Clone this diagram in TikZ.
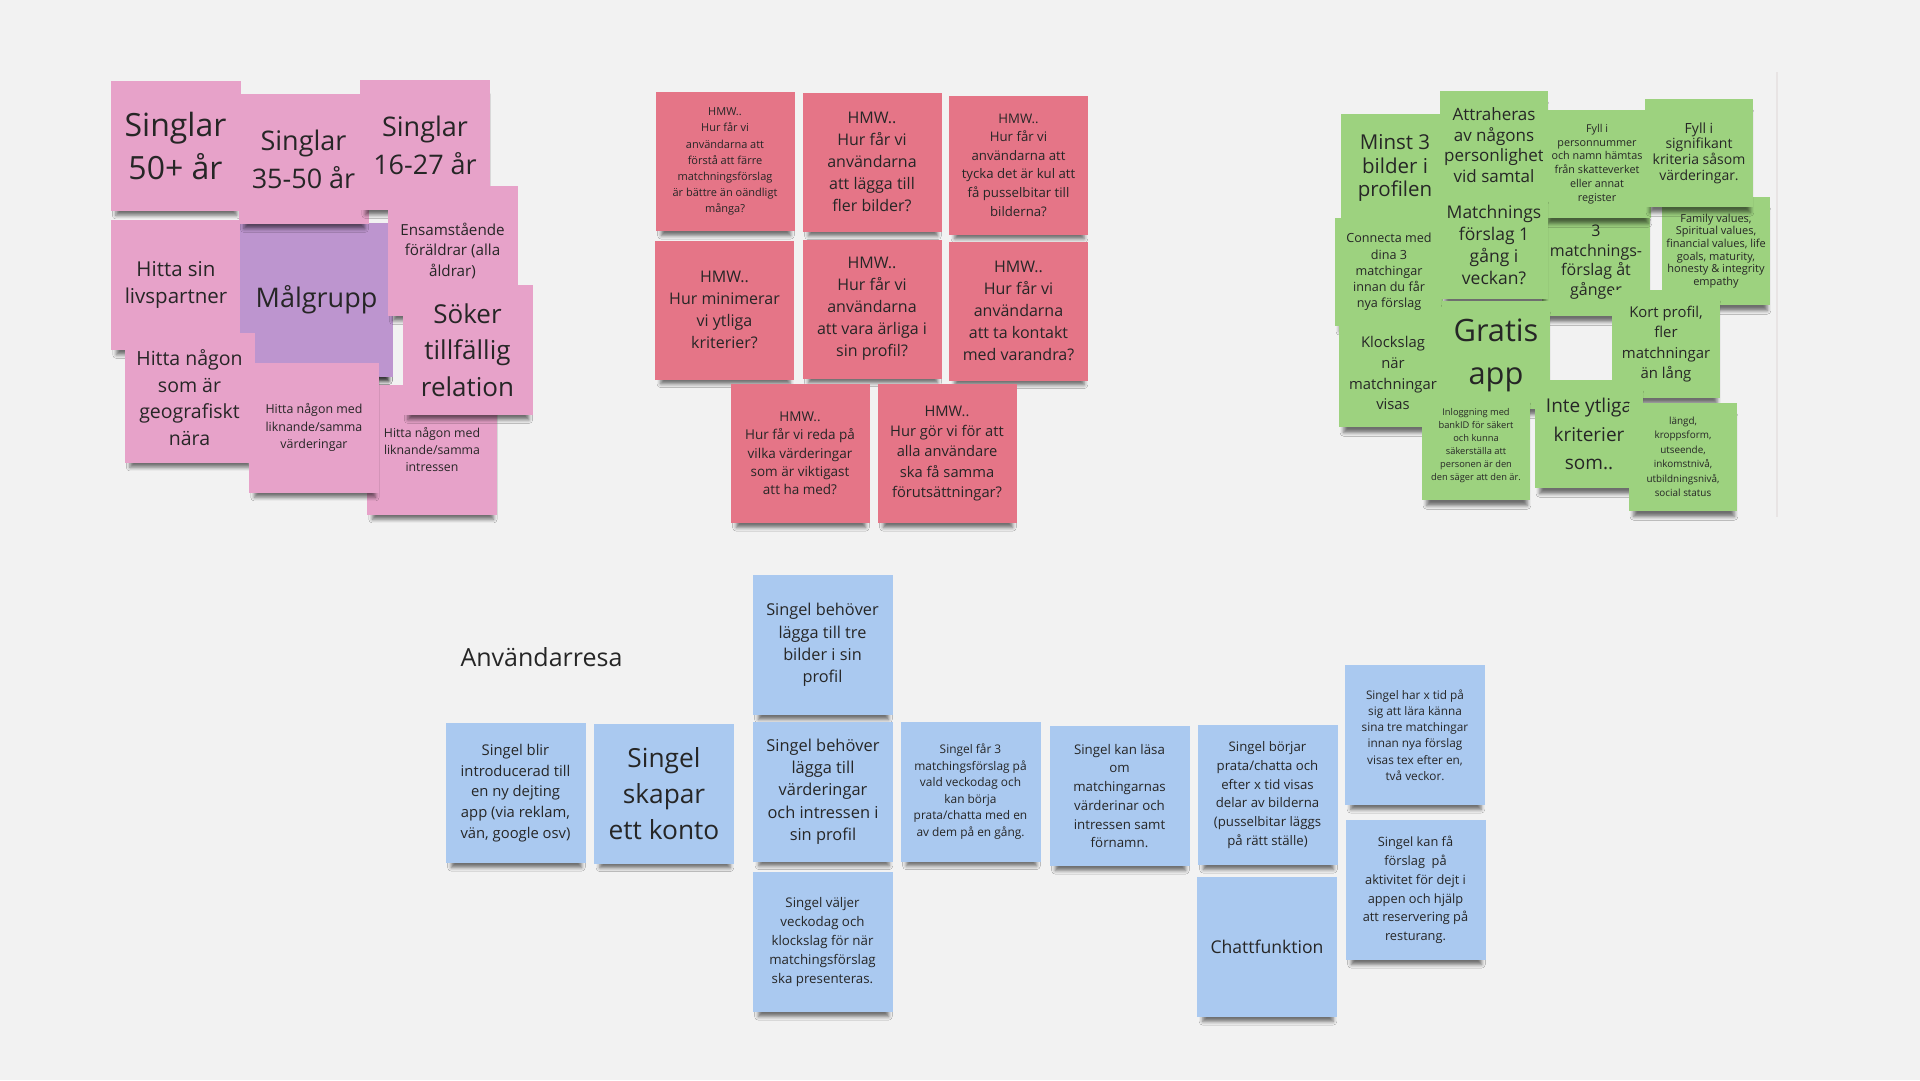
\documentclass[tikz,border=0pt]{standalone}
\usepackage{fontspec}
\setmainfont{Open Sans}
\usetikzlibrary{shadows.blur}

\definecolor{canvas}{HTML}{F2F2F2}
\definecolor{frameedge}{HTML}{E8E4E4}
\definecolor{pinknote}{HTML}{E7A2C9}
\definecolor{purplenote}{HTML}{BD95CF}
\definecolor{rednote}{HTML}{E57587}
\definecolor{greennote}{HTML}{9DD27F}
\definecolor{bluenote}{HTML}{AAC9F0}
\definecolor{notetext}{HTML}{262626}

\newcommand{\nf}[2]{\fontsize{#1}{#2}\selectfont}

\tikzset{
  sticky/.style={rectangle, inner sep=0pt, align=center, text=notetext,
    blur shadow={shadow xshift=1pt, shadow yshift=-10pt, shadow scale=0.93,
      shadow opacity=55, shadow blur radius=4pt}},
  pinksticky/.style={sticky, fill=pinknote, minimum width=130pt, minimum height=130pt},
  purplesticky/.style={sticky, fill=purplenote, minimum width=153pt, minimum height=154pt},
  redsticky/.style={sticky, fill=rednote, minimum width=139pt, minimum height=139pt},
  greensticky/.style={sticky, fill=greennote, minimum width=108pt, minimum height=108pt},
  bluesticky/.style={sticky, fill=bluenote, minimum width=140pt, minimum height=140pt}
}

\begin{document}
\begin{tikzpicture}[x=1pt,y=-1pt]
  \useasboundingbox (0,0) rectangle (1920,1080);
  \fill[canvas] (0,0) rectangle (1920,1080);
  \draw[frameedge, line width=1.5pt] (1777,72) -- (1777,517);

  % Målgrupp
  \begin{scope}[every node/.style={pinksticky}]
    \node[font=\nf{20.5}{27}] (livs) at (176,285) {Hitta sin\\livspartner};
    \node[purplesticky, font=\nf{27}{36}] (malg) at (316.5,300) {Målgrupp};
    \node[font=\nf{32}{43}] (s50) at (175.5,145.5) {Singlar\\50+ år};
    \node[font=\nf{27}{38}] (s35) at (303.5,159) {Singlar\\35-50 år};
    \node[font=\nf{27}{38}] (s16) at (425,145) {Singlar\\16-27 år};
    \node[font=\nf{15.2}{20.7}] (ensam) at (452.5,251) {Ensamstående\\föräldrar (alla\\åldrar)};
    \node[font=\nf{19.5}{26.7}] (geo) at (189.5,397.5) {Hitta någon\\som är\\geografiskt\\nära};
    \node[font=\nf{12.3}{17}] (intr) at (432,449.5) {Hitta någon med\\liknande/samma\\intressen};
    \node[font=\nf{12.4}{17.5}] (varde) at (314,427.5) {Hitta någon med\\liknande/samma\\värderingar};
    \node[font=\nf{26}{36.7}] (soker) at (467.5,350) {Söker\\tillfällig\\relation};
  \end{scope}

  % HMW
  \begin{scope}[every node/.style={redsticky}]
    \node[font=\nf{11}{16.1}] (hmw1) at (725,161.5) {HMW..\\Hur får vi\\användarna att\\förstå att färre\\matchningsförslag\\är bättre än oändligt\\många?};
    \node[font=\nf{16}{22}] (hmw2) at (872,162) {HMW..\\Hur får vi\\användarna\\att lägga till\\fler bilder?};
    \node[font=\nf{13.2}{18.6}] (hmw3) at (1018.5,165) {HMW..\\Hur får vi\\användarna att\\tycka det är kul att\\få pusselbitar till\\bilderna?};
    \node[font=\nf{16}{22}] (hmw4) at (724.5,310) {HMW..\\Hur minimerar\\vi ytliga\\kriterier?};
    \node[font=\nf{16}{22}] (hmw5) at (872,309) {HMW..\\Hur får vi\\användarna\\att vara ärliga i\\sin profil?};
    \node[font=\nf{16}{22}] (hmw6) at (1018.5,311) {HMW..\\Hur får vi\\användarna\\att ta kontakt\\med varandra?};
    \node[font=\nf{13.5}{18.3}] (hmw7) at (800,453.5) {HMW..\\Hur får vi reda på\\vilka värderingar\\som är viktigast\\att ha med?};
    \node[font=\nf{14.7}{20.3}] (hmw8) at (947,453.5) {HMW..\\Hur gör vi för att\\alla användare\\ska få samma\\förutsättningar?};
  \end{scope}

  % krav och ideer
  \begin{scope}[every node/.style={greensticky}]
    \node[font=\nf{16}{19.5}] (tre) at (1596,262) {3\\matchnings-\\förslag åt\\gånger};
    \node[font=\nf{11}{12.7}] (family) at (1716,251) {Family values,\\Spiritual values,\\financial values, life\\goals, maturity,\\honesty \& integrity\\empathy};
    \node[font=\nf{20.5}{23.7}] (minst) at (1395,168) {Minst 3\\bilder i\\profilen};
    \node[font=\nf{17}{20.7}] (attr) at (1494,145) {Attraheras\\av någons\\personlighet\\vid samtal};
    \node[font=\nf{10.8}{13.7}] (fyll1) at (1597,164) {Fyll i\\personnummer\\och namn hämtas\\från skatteverket\\eller annat\\register};
    \node[font=\nf{14}{15.6}] (fyll2) at (1699,153) {Fyll i\\signifikant\\kriteria såsom\\värderingar.};
    \node[font=\nf{12.6}{16.2}] (conn) at (1389,272) {Connecta med\\dina 3\\matchingar\\innan du får\\nya förslag};
    \node[font=\nf{17.5}{21.7}] (vecka) at (1494,245) {Matchnings\\förslag 1\\gång i\\veckan?};
    \node[font=\nf{14.8}{20.9}] (klock) at (1393,373) {Klockslag\\när\\matchningar\\visas};
    \node[font=\nf{30.8}{43}] (gratis) at (1496,355) {Gratis\\app};
    \node[font=\nf{14.9}{20.5}] (kort) at (1666,344) {Kort profil,\\fler\\matchningar\\än lång};
    \node[font=\nf{19}{28.3}] (inte) at (1589,434) {Inte ytliga\\kriterier\\som..};
    \node[font=\nf{9.3}{13}] (inlogg) at (1476,446) {Inloggning med\\bankID för säkert\\och kunna\\säkerställa att\\personen är den\\den säger att den är.};
    \node[font=\nf{9.9}{14.5}] (langd) at (1683,457) {längd,\\kroppsform,\\utseende,\\inkomstnivå,\\utbildningsnivå,\\social status};
  \end{scope}

  % Användarresa
  \node[anchor=west, text=notetext, font=\nf{25}{30}] (resa) at (457,657) {Användarresa};
  \begin{scope}[every node/.style={bluesticky}]
    \node[font=\nf{14.8}{20.8}] (intro) at (515.5,793) {Singel blir\\introducerad till\\en ny dejting\\app (via reklam,\\vän, google osv)};
    \node[font=\nf{26.3}{36}] (konto) at (664,793.5) {Singel\\skapar\\ett konto};
    \node[font=\nf{16.3}{22.3}] (bilder) at (822.5,645) {Singel behöver\\lägga till tre\\bilder i sin\\profil};
    \node[font=\nf{16.4}{22.3}] (vardering) at (823,791.5) {Singel behöver\\lägga till\\värderingar\\och intressen i\\sin profil};
    \node[font=\nf{13.3}{18.8}] (valjer) at (822.5,942) {Singel väljer\\veckodag och\\klockslag för när\\matchingsförslag\\ska presenteras.};
    \node[font=\nf{11.9}{16.5}] (far) at (970.5,791.5) {Singel får 3\\matchingsförslag på\\vald veckodag och\\kan börja\\prata/chatta med en\\av dem på en gång.};
    \node[font=\nf{13.3}{18.7}] (lasa) at (1119.5,796) {Singel kan läsa\\om\\matchingarnas\\värderinar och\\intressen samt\\förnamn.};
    \node[font=\nf{13.2}{18.7}] (borjar) at (1267.5,795) {Singel börjar\\prata/chatta och\\efter x tid visas\\delar av bilderna\\(pusselbitar läggs\\på rätt ställe)};
    \node[font=\nf{17.6}{22}] (chatt) at (1267,947) {Chattfunktion};
    \node[font=\nf{11.8}{16.2}] (tid) at (1415,735) {Singel har x tid på\\sig att lära känna\\sina tre matchingar\\innan nya förslag\\visas tex efter en,\\två veckor.};
    \node[font=\nf{12.8}{18.7}] (dejt) at (1415.5,890) {Singel kan få\\förslag\ \ på\\aktivitet för dejt i\\appen och hjälp\\att reservering på\\resturang.};
  \end{scope}
\end{tikzpicture}
\end{document}
